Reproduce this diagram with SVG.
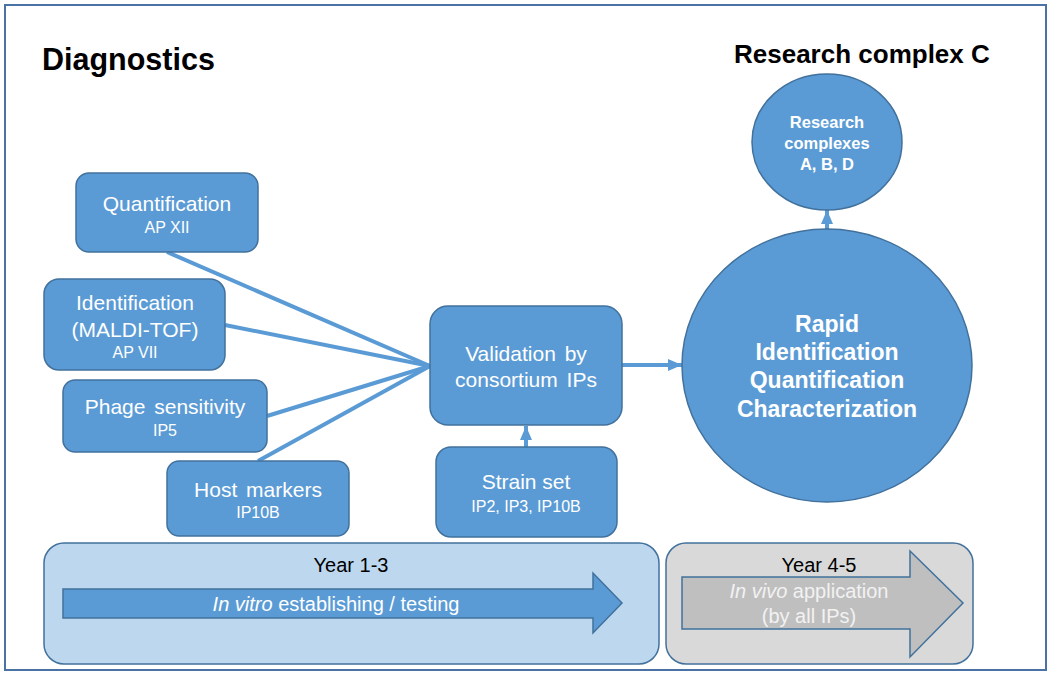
<svg xmlns="http://www.w3.org/2000/svg" width="1049" height="673" viewBox="0 0 1049 673">
<defs>
<style>
.box{fill:#5b9bd5;stroke:#41719c;stroke-width:1.5}
.t{font-family:"Liberation Sans",Arial,sans-serif;fill:#fff;text-anchor:middle}
.m{font-size:21px}
.s{font-size:16px}
.b{font-weight:bold}
.title{font-family:"Liberation Sans",Arial,sans-serif;font-weight:bold;fill:#000}
.conn{stroke:#5b9bd5;stroke-width:4;fill:none}
</style>
<marker id="ah" markerWidth="14" markerHeight="12" refX="14" refY="6" orient="auto" markerUnits="userSpaceOnUse">
<path d="M0,0 L14,6 L0,12 z" fill="#5b9bd5"/>
</marker>
</defs>
<rect x="0" y="0" width="1049" height="673" fill="#fff"/>
<rect x="5" y="5" width="1041" height="665" fill="#fff" stroke="#4a72a4" stroke-width="2"/>
<text class="title" x="42" y="70" font-size="30.5">Diagnostics</text>
<text class="title" x="734" y="63" font-size="26">Research complex C</text>

<g id="connectors">
<line class="conn" x1="167" y1="252" x2="430" y2="366"/>
<line class="conn" x1="225" y1="325" x2="430" y2="366"/>
<line class="conn" x1="267" y1="416" x2="430" y2="366"/>
<line class="conn" x1="258" y1="461" x2="430" y2="366"/>
<line class="conn" x1="622" y1="365" x2="682" y2="365" marker-end="url(#ah)"/>
<line class="conn" x1="526" y1="447" x2="526" y2="426" marker-end="url(#ah)"/>
<line class="conn" x1="827" y1="230" x2="827" y2="210" marker-end="url(#ah)"/>
</g>

<g id="quantification">
<rect class="box" x="76" y="173" width="182" height="79" rx="13"/>
<text class="t m" x="167" y="211">Quantification</text>
<text class="t s" x="167" y="233">AP XII</text>
</g>
<g id="identification">
<rect class="box" x="44" y="279" width="181" height="91" rx="15"/>
<text class="t m" x="135" y="310">Identification</text>
<text class="t m" x="135" y="337">(MALDI-TOF)</text>
<text class="t s" x="135" y="358">AP VII</text>
</g>
<g id="phage">
<rect class="box" x="63" y="380" width="204" height="72" rx="12"/>
<text class="t m" x="165" y="414" word-spacing="3">Phage sensitivity</text>
<text class="t s" x="165" y="436">IP5</text>
</g>
<g id="host">
<rect class="box" x="167" y="461" width="182" height="75" rx="12"/>
<text class="t m" x="258" y="497" word-spacing="3">Host markers</text>
<text class="t s" x="258" y="518">IP10B</text>
</g>
<g id="validation">
<rect class="box" x="430" y="306" width="192" height="119" rx="18"/>
<text class="t m" x="526" y="361" word-spacing="3">Validation by</text>
<text class="t m" x="526" y="387" word-spacing="3">consortium IPs</text>
</g>
<g id="strain">
<rect class="box" x="436" y="447" width="181" height="90" rx="15"/>
<text class="t m" x="526" y="489">Strain set</text>
<text class="t s" x="526" y="512">IP2, IP3, IP10B</text>
</g>
<g id="rapid">
<ellipse class="box" cx="827" cy="365.5" rx="145" ry="136.5"/>
<text class="t b" font-size="23" x="827" y="332">Rapid</text>
<text class="t b" font-size="23" x="827" y="360">Identification</text>
<text class="t b" font-size="23" x="827" y="388">Quantification</text>
<text class="t b" font-size="23" x="827" y="417">Characterization</text>
</g>
<g id="complexes">
<ellipse class="box" cx="827" cy="142" rx="75" ry="68" stroke="#3f6288"/>
<text class="t b" font-size="16.5" x="827" y="127.5">Research</text>
<text class="t b" font-size="16.5" x="827" y="148.5">complexes</text>
<text class="t b" font-size="16.5" x="827" y="170">A, B, D</text>
</g>

<g id="year13">
<rect x="44" y="543" width="615" height="121" rx="20" fill="#bdd7ee" stroke="#41719c" stroke-width="1.5"/>
<text class="t" x="351" y="572" font-size="20" style="fill:#000">Year 1-3</text>
<polygon points="63,589 593,589 593,573 622,603 593,633 593,618 63,618" fill="#5b9bd5" stroke="#41719c" stroke-width="1.5"/>
<text class="t" x="336" y="611" font-size="20"><tspan font-style="italic">In vitro</tspan> establishing / testing</text>
</g>
<g id="year45">
<rect x="666" y="543" width="307" height="121" rx="20" fill="#d9d9d9" stroke="#41719c" stroke-width="1.5"/>
<polygon points="682,577 910,577 910,551 963,603 910,657 910,629 682,629" fill="#bfbfbf" stroke="#41719c" stroke-width="1.5"/>
<text class="t" x="819" y="572" font-size="20" style="fill:#000">Year 4-5</text>
<text class="t" x="809" y="598" font-size="20" style="fill:#f2f2f2"><tspan font-style="italic">In vivo</tspan> application</text>
<text class="t" x="809" y="623" font-size="20" style="fill:#f2f2f2">(by all IPs)</text>
</g>
</svg>
